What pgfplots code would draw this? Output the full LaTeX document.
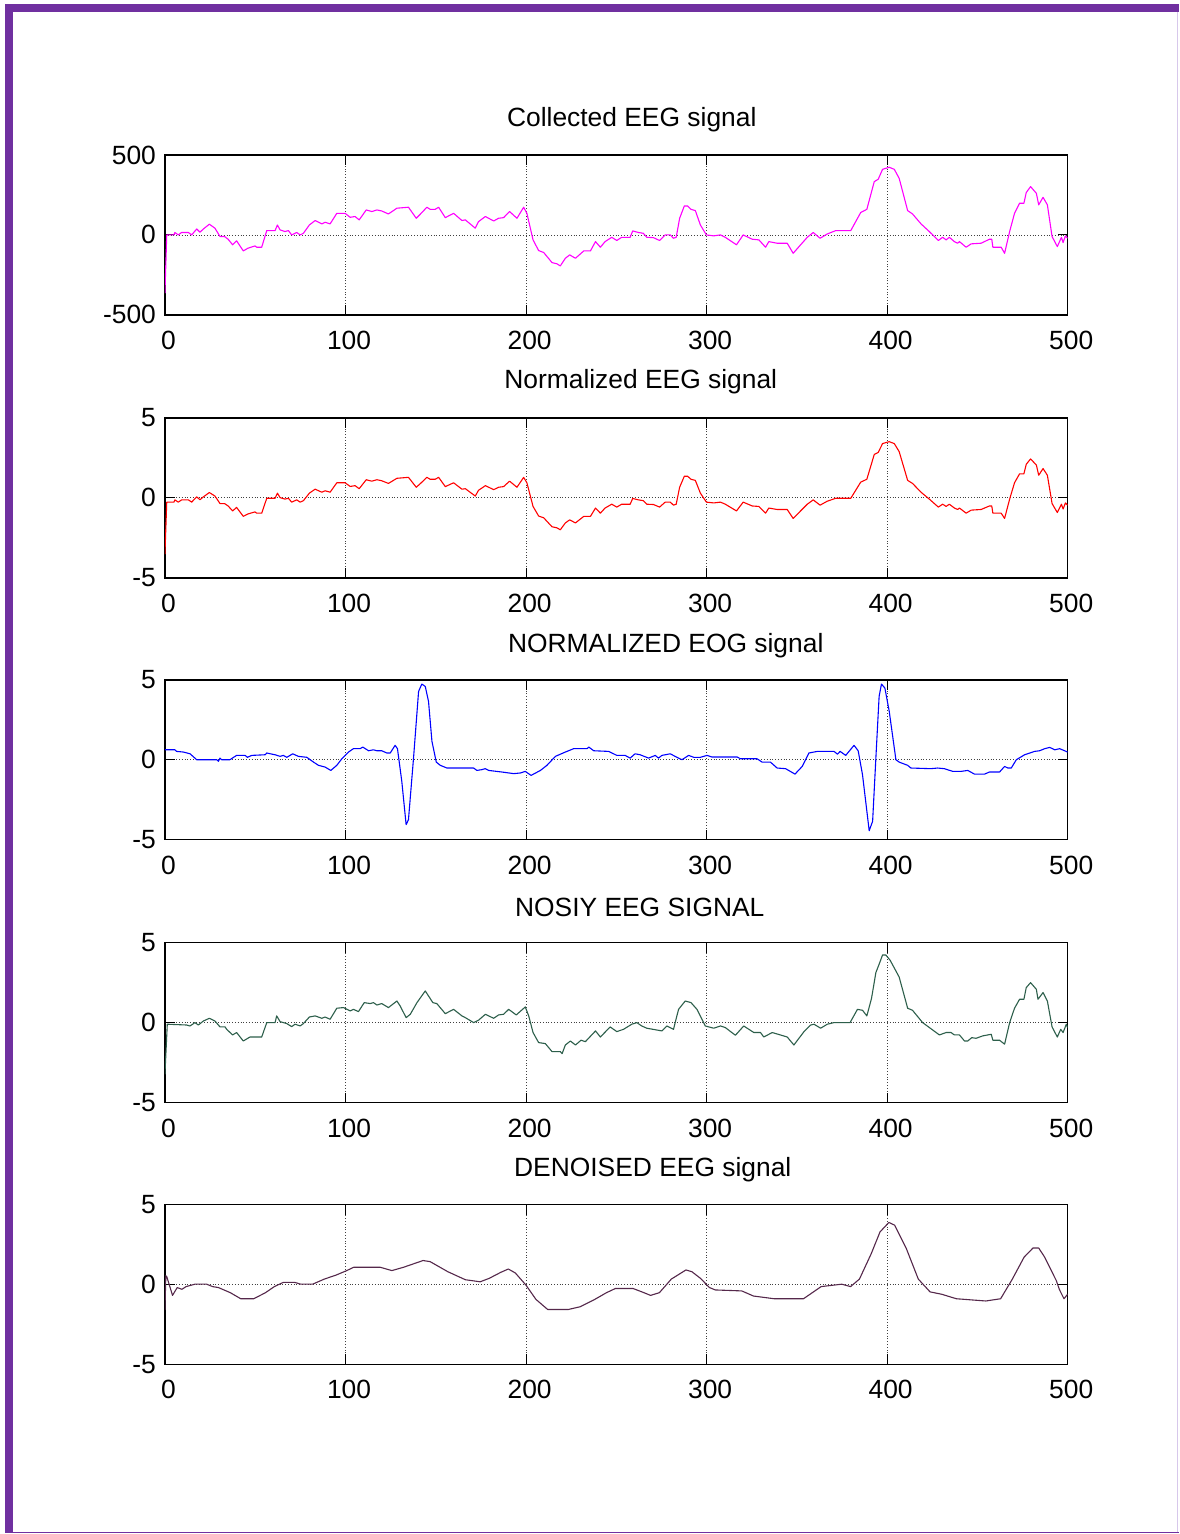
\documentclass[border=0pt]{standalone}
\usepackage{fontspec}
\setmainfont{Liberation Sans}
\usepackage{pgfplots}
\pgfplotsset{compat=1.18}

\definecolor{pagepurple}{RGB}{112,48,160}
\definecolor{lavender}{RGB}{215,200,235}
\definecolor{eegmagenta}{RGB}{255,0,255}
\definecolor{eegred}{RGB}{255,0,0}
\definecolor{eogblue}{RGB}{0,0,255}
\definecolor{noisygreen}{RGB}{45,95,75}
\definecolor{denoisedpurple}{RGB}{85,40,75}

\newcommand{\lblfont}{\fontsize{13.2}{15}\selectfont}

\pgfplotsset{
  eegax/.style={
    scale only axis, width=451.5pt, height=80pt,
    anchor=north west,
    xmin=0, xmax=500, xtick={0,100,...,500},
    grid=major, grid style={densely dotted, black!75, line width=0.4pt},
    major tick length=5pt, tick style={black, line width=0.5pt},
    axis line style={black, line width=0.8pt},
    tick label style={font=\lblfont},
    /pgf/number format/assume math mode=true,
    /pgf/number format/set thousands separator={},
    xticklabel style={yshift=-4.5pt, xshift=1.8pt},
    yticklabel style={xshift=-1pt},
    every axis plot/.append style={line width=0.55pt, line join=round},
  }
}

\begin{document}
\begin{tikzpicture}
% page frame
\fill[white] (0,0) rectangle (589.5pt,-767pt);
\fill[pagepurple] (2.5pt,-2pt) rectangle (589.5pt,-6pt);
\fill[pagepurple] (2.5pt,-2pt) rectangle (6.5pt,-767pt);
\draw[lavender, line width=0.6pt] (588.9pt,-6pt) -- (588.9pt,-767pt);
\draw[pagepurple, line width=0.6pt] (6.5pt,-766.4pt) -- (589.5pt,-766.4pt);

% titles
\node[font=\lblfont] at (316pt,-60pt) {Collected EEG signal};
\node[font=\lblfont] at (320.5pt,-191pt) {Normalized EEG signal};
\node[font=\lblfont] at (333pt,-323pt) {NORMALIZED EOG signal};
\node[font=\lblfont] at (320pt,-454pt) {NOSIY EEG SIGNAL};
\node[font=\lblfont] at (326.5pt,-585pt) {DENOISED EEG signal};

% collected EEG
\begin{axis}[eegax, at={(82.5pt,-77.5pt)}, ymin=-500, ymax=500, ytick={-500,0,500}]
\addplot[eegmagenta] coordinates {
(0,-365)(1,0)(5,0)(5.5,15)(7.4,0)(9.2,15)(13,15)(14.8,0)(17.6,37)(19.4,17)
(21.3,37)(24.6,67)(27.7,42)(30.5,-10)(33,-10)(35,-27)(37.5,-62)(39.7,-37)(43.4,-100)(46,-83)
(49.9,-69)(50.8,-77)(53.6,-77)(56.4,27)(61,27)(62.3,62)(63.8,31)(66.5,21)(68.4,27)(70.2,0)
(73,15)(74.9,0)(76.7,10)(80,62)(83.2,90)(86.9,69)(88.7,79)(91.5,69)(95.2,135)(99.8,135)
(102.6,110)(105.3,115)(107.6,94)(111.5,156)(114.6,146)(117.4,156)(120,150)(123.8,131)(128.5,167)(134.9,173)
(139.2,104)(141.4,129)(145.1,173)(146.9,160)(149.7,160)(151.6,173)(155.3,108)(159.9,135)(164.5,90)(166.4,94)
(171.9,42)(173.7,83)(177.5,115)(182.1,87)(184.8,104)(187.6,108)(190.9,146)(195,104)(198.7,173)(200.5,135)
(203.9,-31)(207,-98)(209.8,-110)(214.4,-173)(217.2,-181)(219,-194)(221.8,-146)(224.2,-125)(227.4,-146)(232,-100)
(235.7,-100)(238.5,-42)(241.2,-77)(243.8,-42)(247.5,-15)(250.3,-35)(253,-15)(257.7,-15)(259.1,25)(262.3,15)
(265,10)(266.9,-15)(270.6,-17)(274,-35)(277.1,0)(279.9,0)(281.7,-21)(283.2,-15)(285.1,104)(287.7,181)
(289.5,181)(291.4,160)(293.8,152)(296.6,62)(299.9,0)(304,-6)(307.7,0)(310.4,-15)(316.6,-62)(320.3,0)
(325.3,-27)(329,-31)(332.7,-77)(334.5,-42)(339.1,-52)(344.7,-52)(348,-115)(352.1,-62)(355.8,-15)(359.1,15)
(362.9,-21)(366.9,6)(371.6,27)(379.9,27)(385.4,140)(388.8,160)(392.9,333)(395.1,348)(397.5,410)(401.2,423)
(404,410)(406.7,354)(411.4,152)(414.1,131)(418.8,69)(423.4,21)(428.4,-35)(430.8,-15)(432.7,-31)(434.5,-15)
(437.3,-42)(439.1,-52)(440.1,-42)(443.8,-77)(446.6,-56)(452.1,-52)(456.7,-27)(458,-27)(458.6,-77)(463.2,-77)
(465.1,-115)(467.9,21)(470.6,135)(473.4,198)(475.8,198)(477.1,265)(479.5,302)(482.7,260)(484,188)(486.4,235)
(488.8,188)(491.4,-10)(494.3,-73)(496.6,-15)(497.5,-48)(498.8,-6)(500,-21)
};
\end{axis}

% normalized EEG
\begin{axis}[eegax, at={(82.5pt,-209pt)}, ymin=-5, ymax=5, ytick={-5,0,5}]
\addplot[eegred] coordinates {
(0,-3.53)(1,-0.27)(5,-0.27)(5.5,-0.13)(7.4,-0.27)(9.2,-0.13)(13,-0.13)(14.8,-0.27)(17.6,0.06)(19.4,-0.12)
(21.3,0.06)(24.6,0.33)(27.7,0.11)(30.5,-0.36)(33,-0.36)(35,-0.51)(37.5,-0.82)(39.7,-0.60)(43.4,-1.16)(46,-1.01)
(49.9,-0.88)(50.8,-0.96)(53.6,-0.96)(56.4,-0.03)(61,-0.03)(62.3,0.29)(63.8,0.01)(66.5,-0.08)(68.4,-0.03)(70.2,-0.27)
(73,-0.13)(74.9,-0.27)(76.7,-0.18)(80,0.29)(83.2,0.54)(86.9,0.35)(88.7,0.44)(91.5,0.35)(95.2,0.94)(99.8,0.94)
(102.6,0.71)(105.3,0.76)(107.6,0.57)(111.5,1.13)(114.6,1.04)(117.4,1.13)(120,1.07)(123.8,0.90)(128.5,1.22)(134.9,1.28)
(139.2,0.66)(141.4,0.88)(145.1,1.28)(146.9,1.16)(149.7,1.16)(151.6,1.28)(155.3,0.70)(159.9,0.94)(164.5,0.54)(166.4,0.57)
(171.9,0.11)(173.7,0.47)(177.5,0.76)(182.1,0.51)(184.8,0.66)(187.6,0.70)(190.9,1.04)(195,0.66)(198.7,1.28)(200.5,0.94)
(203.9,-0.54)(207,-1.14)(209.8,-1.25)(214.4,-1.81)(217.2,-1.88)(219,-2.00)(221.8,-1.57)(224.2,-1.38)(227.4,-1.57)(232,-1.16)
(235.7,-1.16)(238.5,-0.64)(241.2,-0.96)(243.8,-0.64)(247.5,-0.40)(250.3,-0.58)(253,-0.40)(257.7,-0.40)(259.1,-0.04)(262.3,-0.13)
(265,-0.18)(266.9,-0.40)(270.6,-0.42)(274,-0.58)(277.1,-0.27)(279.9,-0.27)(281.7,-0.46)(283.2,-0.40)(285.1,0.66)(287.7,1.35)
(289.5,1.35)(291.4,1.16)(293.8,1.09)(296.6,0.29)(299.9,-0.27)(304,-0.32)(307.7,-0.27)(310.4,-0.40)(316.6,-0.82)(320.3,-0.27)
(325.3,-0.51)(329,-0.54)(332.7,-0.96)(334.5,-0.64)(339.1,-0.73)(344.7,-0.73)(348,-1.29)(352.1,-0.82)(355.8,-0.40)(359.1,-0.13)
(362.9,-0.46)(366.9,-0.21)(371.6,-0.03)(379.9,-0.03)(385.4,0.98)(388.8,1.16)(392.9,2.71)(395.1,2.84)(397.5,3.39)(401.2,3.51)
(404,3.39)(406.7,2.89)(411.4,1.09)(414.1,0.90)(418.8,0.35)(423.4,-0.08)(428.4,-0.58)(430.8,-0.40)(432.7,-0.54)(434.5,-0.40)
(437.3,-0.64)(439.1,-0.73)(440.1,-0.64)(443.8,-0.96)(446.6,-0.77)(452.1,-0.73)(456.7,-0.51)(458,-0.51)(458.6,-0.96)(463.2,-0.96)
(465.1,-1.29)(467.9,-0.08)(470.6,0.94)(473.4,1.50)(475.8,1.50)(477.1,2.10)(479.5,2.43)(482.7,2.05)(484,1.41)(486.4,1.83)
(488.8,1.41)(491.4,-0.36)(494.3,-0.92)(496.6,-0.40)(497.5,-0.70)(498.8,-0.32)(500,-0.46)
};
\end{axis}

% normalized EOG
\begin{axis}[eegax, at={(82.5pt,-340pt)}, ymin=-5, ymax=5, ytick={-5,0,5}]
\addplot[eogblue] coordinates {
(0,0.62)(5.5,0.62)(6.5,0.52)(10.2,0.48)(13.9,0.37)(17.6,0)(28.7,0)(29.6,-0.1)(30.5,0.1)(31.4,0)
(36,0)(39.7,0.27)(44.4,0.27)(45.7,0.15)(48.1,0.27)(55.5,0.31)(56.4,0.42)(59.2,0.35)(61,0.31)(63.8,0.21)
(65.6,0.27)(67.5,0.15)(70.8,0.37)(73.9,0.21)(78.6,0.15)(82.3,-0.15)(85,-0.35)(88.7,-0.46)(91.9,-0.67)(95.2,-0.35)
(98,0.06)(101.7,0.48)(104.4,0.69)(108.1,0.69)(109.6,0.79)(112.8,0.56)(115.5,0.62)(117.4,0.56)(120.1,0.56)(122.9,0.42)
(124.8,0.42)(127.5,0.9)(128.8,0.69)(131.2,-1.35)(133.6,-4.06)(134.9,-3.75)(137.7,0.1)(140.5,4.27)(142.3,4.73)(144.2,4.58)
(146,3.65)(147.9,1.15)(150.3,-0.15)(152.5,-0.35)(156.2,-0.52)(171,-0.52)(172.8,-0.67)(175.6,-0.62)(177.4,-0.56)(179.3,-0.67)
(186.7,-0.77)(193.2,-0.87)(196.9,-0.83)(199.6,-0.73)(202.8,-0.98)(208,-0.67)(211.6,-0.35)(216.3,0.21)(221.8,0.48)(226.4,0.69)
(233.8,0.69)(234.8,0.79)(237.5,0.56)(245.8,0.52)(250.3,0.27)(254.9,0.27)(257.7,0.1)(260.4,0.37)(263.2,0.31)(267.9,0.1)
(271.6,0.27)(273.4,0.1)(275.3,0.27)(279.9,0.37)(283.6,0.15)(286.4,0)(290.1,0.27)(292.9,0.15)(296.6,0.15)(300.3,0.27)
(303,0.17)(316.9,0.17)(318.8,0.06)(328,0.06)(330.8,-0.15)(335.4,-0.15)(339.1,-0.52)(343.8,-0.56)(349,-0.9)(353,-0.42)
(356.7,0.42)(361.4,0.52)(370.6,0.52)(372.5,0.35)(374,0.52)(377.1,0.27)(381.7,0.9)(384,0.56)(386.4,-0.94)(390.1,-4.44)
(392,-3.85)(393.8,0.1)(395.6,3.96)(396.9,4.73)(398.8,4.48)(401.2,3.02)(404.9,0)(406.7,-0.15)(409.5,-0.27)(411.4,-0.35)
(413.2,-0.52)(424.3,-0.56)(428,-0.52)(431.7,-0.56)(436.4,-0.73)(441,-0.73)(444.7,-0.67)(448.4,-0.9)(454,-0.9)(456.7,-0.77)
(462.3,-0.77)(465.1,-0.42)(466.9,-0.52)(468.8,-0.52)(471.6,0)(476.2,0.31)(481.7,0.52)(484.5,0.56)(487.3,0.69)(490.1,0.77)
(492.9,0.62)(495.6,0.69)(500,0.48)
};
\end{axis}

% noisy EEG
\begin{axis}[eegax, at={(82.5pt,-471.5pt)}, ymin=-5, ymax=5, ytick={-5,0,5}]
\addplot[noisygreen] coordinates {
(0,-3.23)(1.3,-0.1)(12,-0.15)(13.9,-0.21)(16.6,0)(18.5,-0.15)(21.3,0.1)(24.6,0.27)(27.7,0.1)(30.5,-0.27)
(33.3,-0.27)(34.2,-0.42)(37.5,-0.77)(39.7,-0.62)(43.4,-1.15)(47.1,-0.9)(53.6,-0.9)(56.4,0)(61,0)(61.9,0.42)
(63.8,0.06)(67.5,-0.06)(70.2,-0.25)(72.1,-0.1)(74.9,-0.21)(76.7,-0.06)(80,0.35)(83.2,0.42)(86.9,0.27)(88.7,0.35)
(91.5,0.21)(95.2,0.9)(98.9,0.94)(102.6,0.73)(104.4,0.83)(107.2,0.69)(110.4,1.25)(113.7,1.19)(115.5,1.25)(117.4,1.1)
(120.1,1.19)(123.8,0.94)(128.5,1.35)(130.3,1.04)(133.6,0.31)(135.9,0.52)(139.6,1.25)(144.2,1.98)(148.4,1.25)(150.6,1.19)
(155.3,0.56)(159.9,0.83)(164.5,0.42)(166.4,0.31)(171,0)(173.7,0.15)(177.5,0.52)(182.1,0.27)(184.8,0.48)(187.6,0.52)
(190.4,0.83)(194.6,0.48)(199.6,0.98)(201.5,0.42)(203.9,-0.62)(207,-1.25)(210.7,-1.31)(214.4,-1.81)(219,-1.81)(220,-1.94)
(221.8,-1.4)(224.6,-1.15)(227.4,-1.4)(230.5,-1.1)(232.9,-1.19)(238.5,-0.52)(241.2,-0.9)(246.6,-0.27)(250.3,-0.56)(254,-0.42)
(258.6,-0.1)(261.4,0)(264.1,-0.21)(266.9,-0.35)(275.3,-0.52)(278,-0.21)(281.7,-0.42)(284.5,0.83)(288.2,1.35)(291.4,1.25)
(294.7,0.83)(299.3,-0.21)(304,-0.35)(307.7,-0.21)(310.4,-0.31)(316,-0.79)(320.6,-0.21)(326.2,-0.62)(329.9,-0.62)(331.7,-0.9)
(336.4,-0.62)(344.7,-0.9)(348.4,-1.4)(354,-0.56)(357.7,-0.15)(359.5,-0.1)(363.2,-0.35)(366.9,-0.1)(370.6,0)(379.5,0)
(383.6,0.83)(386.4,0.77)(388.8,0.42)(391.4,1.52)(393.8,3.13)(395.6,3.65)(397.5,4.23)(399.3,4.23)(401.7,3.9)(406.7,2.85)
(411.4,0.9)(414.1,0.77)(419.7,0)(429,-0.77)(432.7,-0.62)(435.4,-0.62)(437.3,-0.77)(440.1,-0.77)(442.9,-1.15)(444.7,-1.15)
(446.9,-0.94)(449.3,-0.98)(453,-0.83)(457.7,-0.73)(458.6,-1.1)(462.3,-1.1)(465.1,-1.35)(467.9,0)(470.6,0.9)(473.4,1.46)
(475.8,1.46)(477.1,2.19)(479.5,2.5)(482.7,2.08)(483.6,1.46)(486.4,1.88)(488.8,1.35)(491.4,-0.27)(494.3,-0.9)(496.2,-0.42)
(497.5,-0.62)(499.3,-0.1)(500,-0.31)
};
\end{axis}

% denoised EEG
\begin{axis}[eegax, at={(82.5pt,-602.5pt)}, ymin=-5, ymax=5, ytick={-5,0,5}]
\addplot[denoisedpurple] coordinates {
(0,-1.6)(0.5,0.55)(1,0.5)(4.2,-0.68)(6.8,-0.19)(9.4,-0.3)(11.7,-0.13)(16.6,0.02)(23.1,0.02)(26.4,-0.13)
(29.6,-0.19)(36.2,-0.51)(42,-0.89)(49.2,-0.89)(55.7,-0.51)(60.6,-0.13)(65.5,0.13)(72,0.13)(75.2,0.02)(81.8,0.02)
(88.3,0.34)(94.8,0.59)(100.7,0.87)(104.6,1.08)(119.2,1.08)(125.7,0.87)(132.2,1.08)(143,1.5)(146.9,1.43)(156.7,0.8)
(166.4,0.3)(174.6,0.17)(179.5,0.38)(186,0.76)(190.2,0.97)(194.1,0.72)(200,-0.04)(205.5,-0.93)(212,-1.56)(223.5,-1.56)
(230,-1.39)(238.1,-0.93)(244.6,-0.51)(249.5,-0.25)(259.3,-0.25)(264.2,-0.46)(269,-0.68)(273.9,-0.51)(280.5,0.34)(288.6,0.91)
(291.9,0.8)(296.7,0.38)(301.6,-0.19)(304.9,-0.34)(319.5,-0.4)(326,-0.72)(337.5,-0.89)(353.7,-0.89)(363.5,-0.13)(374.9,0.02)
(379.8,-0.13)(384.7,0.34)(391.2,1.92)(396.1,3.29)(401,3.88)(404.2,3.71)(410.7,2.24)(417.3,0.34)(423.8,-0.46)(430.3,-0.61)
(438.4,-0.89)(454.7,-1.03)(462.9,-0.89)(469.4,0.34)(475.9,1.71)(480.8,2.28)(484,2.28)(487.3,1.71)(493.8,0.23)(495.4,-0.3)
(498,-0.89)(500,-0.61)
};
\end{axis}
\end{tikzpicture}
\end{document}
